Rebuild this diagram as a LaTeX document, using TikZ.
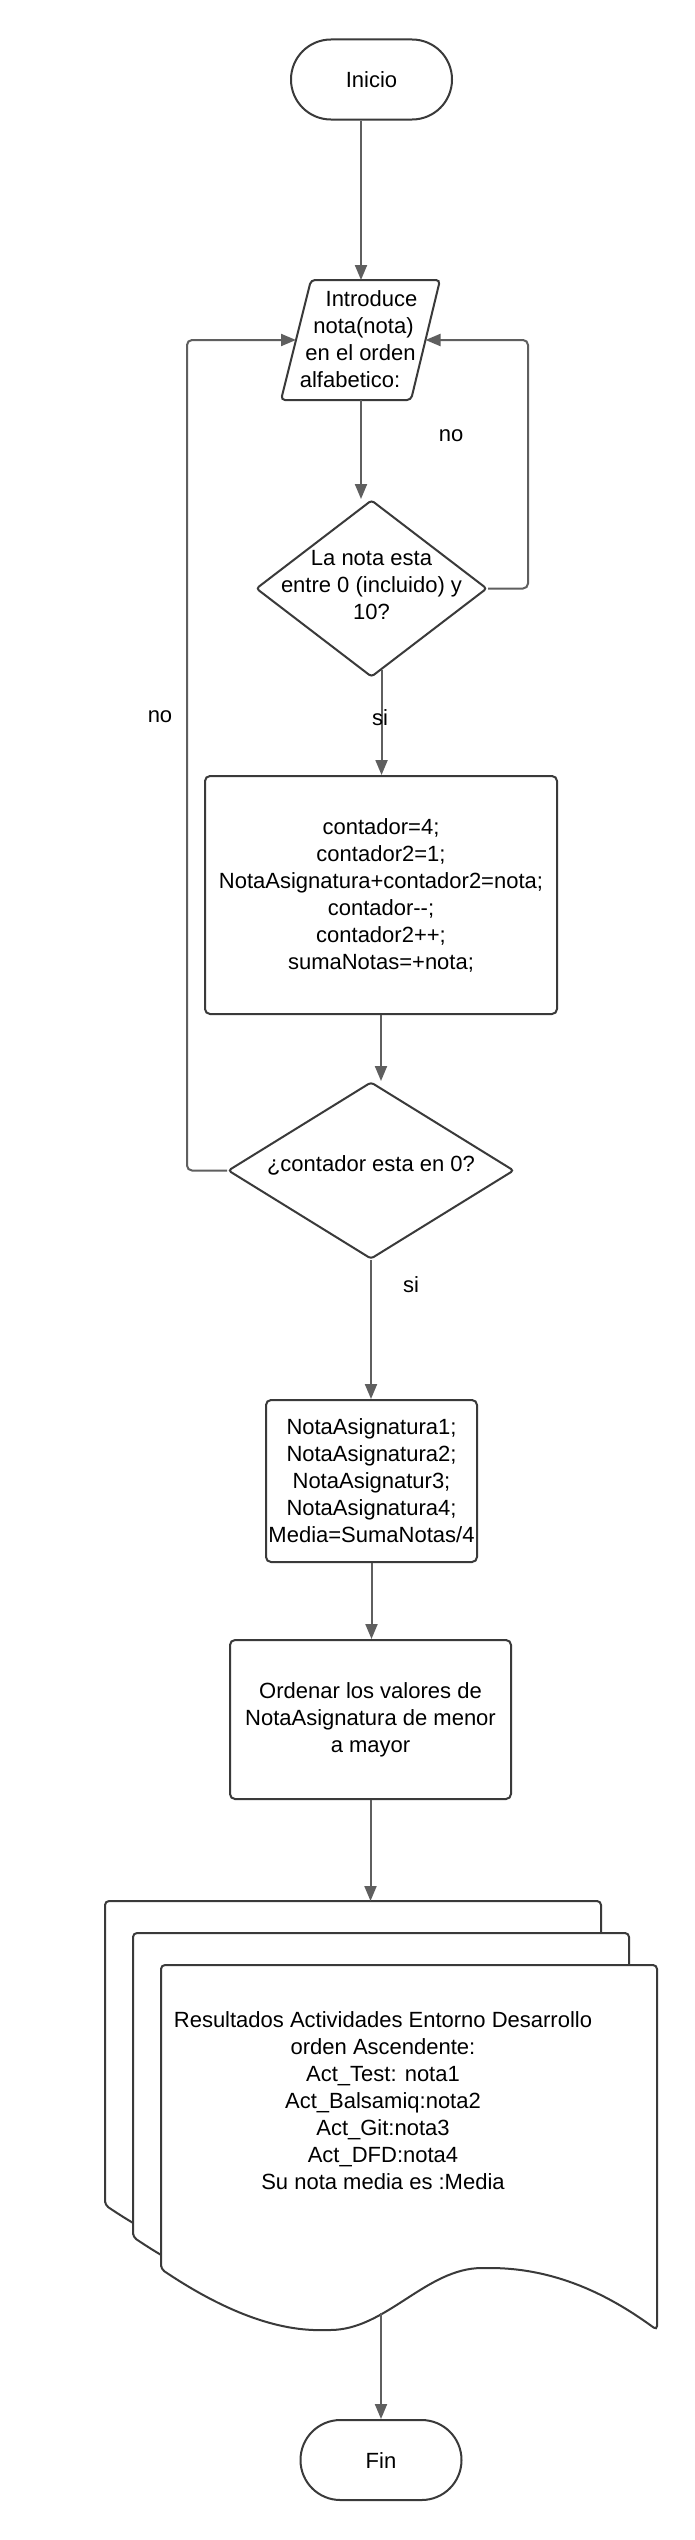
\documentclass[tikz,border=0pt]{standalone}
\usepackage{fontspec}
\setmainfont{Liberation Sans}
\usetikzlibrary{shapes.geometric,arrows.meta,calc}
\definecolor{conn}{HTML}{5F5F5F}
\definecolor{bord}{HTML}{3A3A3A}
\tikzset{
  txt/.style={font=\fontsize{22}{27}\selectfont, text=black, align=center},
  term/.style={txt, draw=bord, line width=2pt, fill=white, rounded corners=39.9pt,
    minimum width=161pt, minimum height=80pt, inner sep=0pt},
  proc/.style={txt, draw=bord, line width=2pt, fill=white, rounded corners=5pt, inner sep=2pt},
  decision/.style={diamond, draw=bord, line width=2pt, fill=white, inner sep=0pt, rounded corners=3pt},
  arr/.style={draw=conn, line width=2pt, -{Triangle[length=15pt,width=12pt]}},
  lbl/.style={txt},
  docpage/.pic={
    \draw[draw=bord, line width=2pt, fill=white, rounded corners=4pt]
      (0,304) -- (0,0) -- (496,0) -- (496,365)
      .. controls (455,335) and (400,303) .. (325,303)
      .. controls (265,303) and (225,365) .. (165,365)
      .. controls (110,366) and (55,341) .. (0,304) -- cycle;
  }
}
\begin{document}
\begin{tikzpicture}[x=1pt, y=-1pt]
\fill[white] (0,0) rectangle (695,2540);
\useasboundingbox (0,0) rectangle (695,2540);

% start
\node[term] (inicio) at (371.5,79.5) {Inicio};

% input parallelogram
\draw[draw=bord, line width=2pt, fill=white, rounded corners=4pt]
  (311,280) -- (440,280) -- (411,400) -- (281,400) -- cycle;
\node[txt, inner sep=0pt] (para) at (360.5,339.5)
  {\hspace*{22pt}Introduce\\\hspace*{6pt}nota(nota)\\en el orden\hspace*{7pt}\\alfabetico:\hspace*{21pt}};
\coordinate (paraT) at (361,280);
\coordinate (paraB) at (361,400);
\coordinate (paraL) at (296,340);
\coordinate (paraR) at (425.5,340);

% decision 1
\node[decision, minimum width=231pt, minimum height=177pt,
  label={[txt, yshift=3.5pt]center:{La nota esta\\entre 0 (incluido) y\\10?}}] (d1) at (371.5,588.5) {};

% process 1
\node[proc, minimum width=352pt, minimum height=238pt] (box1) at (381,895)
  {contador=4;\\contador2=1;\\NotaAsignatura+contador2=nota;\\contador\mbox{-}\mbox{-};\\contador2++;\\sumaNotas=+nota;};

% decision 2
\node[decision, minimum width=286pt, minimum height=177pt,
  label={[txt, yshift=5pt]center:{¿contador esta en 0?}}] (d2) at (371,1170.5) {};

% process 2
\node[proc, minimum width=211pt, minimum height=162pt] (box2) at (371.5,1481)
  {NotaAsignatura1;\\NotaAsignatura2;\\NotaAsignatur3;\\NotaAsignatura4;\\Media=SumaNotas/4};

% process 3
\node[proc, minimum width=281pt, minimum height=159pt] (box3) at (370.5,1719.5)
  {Ordenar los valores de\\NotaAsignatura de menor\\a mayor};

% multi-document
\pic at (105,1901) {docpage};
\pic at (133,1933) {docpage};
\pic at (161,1965) {docpage};
\coordinate (doctop) at (370.5,1901);
\coordinate (docout) at (381,2313);
\node[txt] (doctext) at (383,2101)
  {Resultados Actividades Entorno Desarrollo\\orden Ascendente:\\Act\_Test: nota1\\Act\_Balsamiq:nota2\\Act\_Git:nota3\\Act\_DFD:nota4\\Su nota media es :Media};

% end
\node[term] (fin) at (381,2460) {Fin};

% connectors
\draw[arr] (inicio.south -| paraT) -- (paraT);
\draw[arr] (paraB) -- (paraB |- d1.north);
\draw[arr, rounded corners=5pt] (d1.east) -- ++(40,0) |- (paraR);
\draw[arr] (d1.-83.3) -- (d1.-83.3 |- box1.north);
\draw[arr] (box1.south) -- (box1.south |- d2.north);
\draw[arr, rounded corners=5pt] (d2.west) -- ++(-40,0) |- (paraL);
\draw[arr] (d2.south) -- (d2.south |- box2.north);
\draw[arr] (box2.south) -- (box2.south |- box3.north);
\draw[arr] (box3.south) -- (doctop);
\draw[arr] (docout) -- (fin.north -| docout);

% labels
\node[lbl] (no1) at (451,436) {no};
\node[lbl] (no2) at (160,717) {no};
\node[lbl] (si1) at (380,718) {si};
\node[lbl] (si2) at (411,1285) {si};
\end{tikzpicture}
\end{document}
